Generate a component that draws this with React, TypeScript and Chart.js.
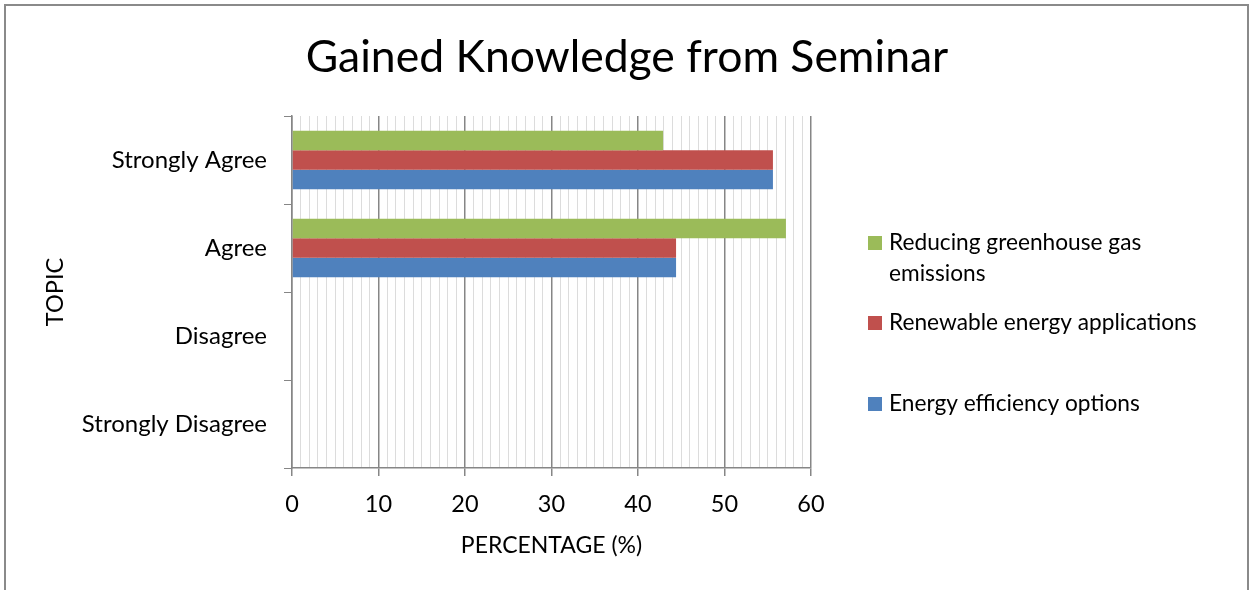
import React, { useEffect, useRef } from "react";
import { Chart, registerables } from "chart.js";

Chart.register(...registerables);

const chartTitle = "Gained Knowledge from Seminar";
const categories = ["Strongly Agree", "Agree", "Disagree", "Strongly Disagree"];
const seriesNames = [
  "Reducing greenhouse gas emissions",
  "Renewable energy applications",
  "Energy efficiency options",
];
const legendLines = [
  ["Reducing greenhouse gas", "emissions"],
  ["Renewable energy applications"],
  ["Energy efficiency options"],
];
const greenhouseValues = [42.9, 57.1, 0, 0];
const renewableValues = [55.6, 44.4, 0, 0];
const efficiencyValues = [55.6, 44.4, 0, 0];
const seriesColors = ["#9BBB59", "#C0504D", "#4F81BD"];
const xMin = 0;
const xMax = 60;
const xTitle = "PERCENTAGE (%)";
const yTitle = "TOPIC";

const FONT = "Lato, 'Open Sans', sans-serif";

export default function App() {
  const ref = useRef<HTMLCanvasElement | null>(null);

  useEffect(() => {
    document.body.style.margin = "0";
    const canvas = ref.current;
    if (!canvas) return;

    const decorPlugin = {
      id: "decor",
      afterDraw(chart: any) {
        const ctx = chart.ctx as CanvasRenderingContext2D;
        ctx.save();
        // outer frame
        ctx.strokeStyle = "#8a8a8a";
        ctx.lineWidth = 2;
        ctx.strokeRect(5, 5, 1243, 620);
        // title
        ctx.fillStyle = "#000";
        ctx.font = `44.5px ${FONT}`;
        ctx.textAlign = "center";
        ctx.textBaseline = "middle";
        ctx.fillText(chartTitle, 627, 58);
        // legend
        const ys = [243, 323, 404];
        ctx.font = `22.7px ${FONT}`;
        ctx.textAlign = "left";
        legendLines.forEach((lines, i) => {
          ctx.fillStyle = seriesColors[i];
          ctx.fillRect(868, ys[i] - 7, 14, 14);
          ctx.fillStyle = "#000";
          lines.forEach((t, j) => {
            ctx.fillText(t, 889, ys[i] + j * 31);
          });
        });
        ctx.restore();
      },
    };

    const chart = new Chart(canvas, {
      type: "bar",
      data: {
        labels: categories,
        datasets: [
          { label: seriesNames[0], data: greenhouseValues, backgroundColor: seriesColors[0] },
          { label: seriesNames[1], data: renewableValues, backgroundColor: seriesColors[1] },
          { label: seriesNames[2], data: efficiencyValues, backgroundColor: seriesColors[2] },
        ],
      },
      options: {
        indexAxis: "y",
        animation: false,
        responsive: true,
        maintainAspectRatio: false,
        layout: { padding: { top: 116, right: 439, left: 0, bottom: 0 } },
        datasets: {
          bar: { categoryPercentage: 0.667, barPercentage: 1, borderWidth: 0 },
        },
        plugins: {
          legend: { display: false },
          title: { display: false },
          tooltip: { enabled: false },
        },
        scales: {
          x: {
            type: "linear",
            min: xMin,
            max: xMax,
            afterFit: (s: any) => {
              s.height = 122;
            },
            ticks: {
              stepSize: 1,
              autoSkip: false,
              maxRotation: 0,
              padding: 14,
              color: "#000",
              font: { family: FONT, size: 23.5 },
              callback: (v: any) => (Number(v) % 10 === 0 ? String(v) : ""),
            },
            grid: {
              color: (c: any) => (c.tick && c.tick.value % 10 === 0 ? "#868686" : "#dcdcdc"),
              tickColor: (c: any) =>
                c.tick && c.tick.value % 10 === 0 ? "#868686" : "rgba(0,0,0,0)",
              tickLength: 8,
              lineWidth: (c: any) => (c.tick && c.tick.value % 10 === 0 ? 1.5 : 1),
            },
            border: { color: "#868686", width: 1.5 },
            title: {
              display: true,
              text: xTitle,
              color: "#000",
              font: { family: FONT, size: 23 },
              padding: { top: 0, bottom: 31 },
            },
          },
          y: {
            type: "category",
            offset: true,
            afterFit: (s: any) => {
              s.width = 292;
            },
            ticks: {
              color: "#000",
              padding: 17,
              font: { family: FONT, size: 24 },
            },
            grid: {
              offset: true,
              drawOnChartArea: false,
              drawTicks: true,
              tickLength: 8,
              tickColor: "#868686",
              color: "#868686",
            },
            border: { color: "#868686", width: 1.5 },
            title: {
              display: true,
              text: yTitle,
              color: "#000",
              font: { family: FONT, size: 23.5 },
              padding: { top: 41, bottom: 0 },
            },
          },
        },
      },
      plugins: [decorPlugin],
    } as any);

    return () => chart.destroy();
  }, []);

  return (
    <div style={{ width: 1250, height: 590, position: "relative" }}>
      <canvas ref={ref} />
    </div>
  );
}
